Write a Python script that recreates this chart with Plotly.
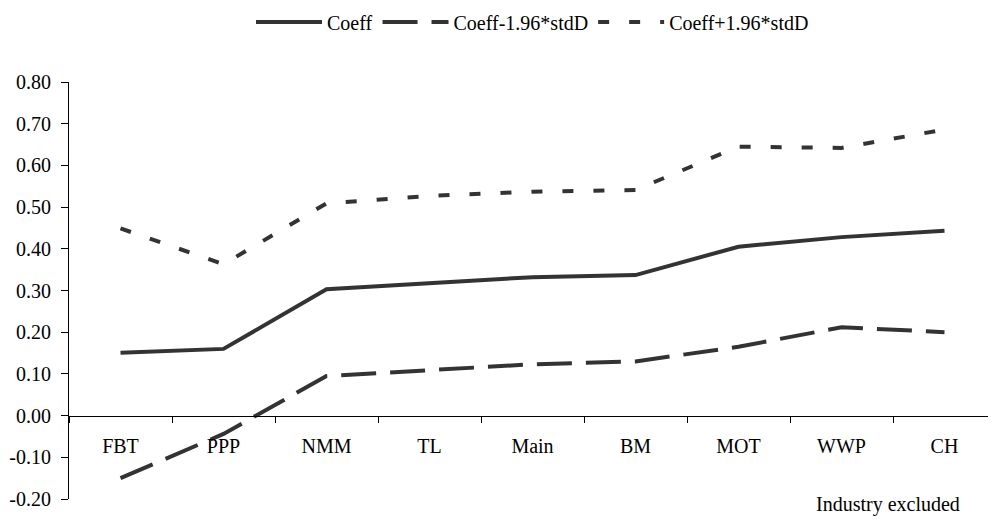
import plotly.graph_objects as go

categories = ["FBT", "PPP", "NMM", "TL", "Main", "BM", "MOT", "WWP", "CH"]
coeff = [0.151, 0.160, 0.303, 0.318, 0.332, 0.337, 0.405, 0.428, 0.443]
lower = [-0.150, -0.044, 0.095, 0.108, 0.123, 0.130, 0.165, 0.212, 0.200]
upper = [0.449, 0.363, 0.509, 0.527, 0.537, 0.541, 0.645, 0.642, 0.686]
y_tick_vals = [-0.2, -0.1, 0.0, 0.1, 0.2, 0.3, 0.4, 0.5, 0.6, 0.7, 0.8]
y_tick_text = ["-0.20", "-0.10", "0.00", "0.10", "0.20", "0.30", "0.40", "0.50", "0.60", "0.70", "0.80"]

FONT = "Liberation Serif"
COL = "#333333"

fig = go.Figure()
fig.add_trace(go.Scatter(x=categories, y=coeff, mode="lines", name="Coeff",
                         line=dict(color=COL, width=4)))
fig.add_trace(go.Scatter(x=categories, y=lower, mode="lines", name="Coeff-1.96*stdD",
                         line=dict(color=COL, width=4, dash="35px,14px")))
fig.add_trace(go.Scatter(x=categories, y=upper, mode="lines", name="Coeff+1.96*stdD",
                         line=dict(color=COL, width=4, dash="11px,20px")))

# page body has an 8px margin; figure is sized/margined to compensate
fig.update_layout(
    width=988, height=513,
    margin=dict(l=61, r=0, t=74, b=22, autoexpand=False),
    paper_bgcolor="white", plot_bgcolor="white",
    font=dict(family=FONT, size=20, color="black"),
    showlegend=True,
    legend=dict(orientation="h", x=0.5, xanchor="center", xref="paper",
                y=1.144, yref="paper", yanchor="middle",
                font=dict(family=FONT, size=20, color="black"),
                itemwidth=66, tracegroupgap=0),
    xaxis=dict(
        type="category", range=[-0.5, 8.5],
        anchor="free", position=0.2,
        showline=True, linecolor="black", linewidth=1,
        showgrid=False, zeroline=False,
        ticks="outside", tickson="boundaries", ticklen=6, tickcolor="black",
        ticklabelstandoff=12,
        tickfont=dict(family=FONT, size=20, color="black"),
        automargin=False,
    ),
    yaxis=dict(
        range=[-0.2, 0.8], tickmode="array", tickvals=y_tick_vals, ticktext=y_tick_text,
        showline=True, linecolor="black", linewidth=1,
        showgrid=False, zeroline=False,
        ticks="outside", ticklen=7, tickcolor="black",
        ticklabelstandoff=6,
        tickfont=dict(family=FONT, size=20, color="black"),
        automargin=False,
    ),
    annotations=[dict(text="Industry excluded", xref="paper", yref="paper",
                      x=0.963, y=-0.014, xanchor="right", yanchor="middle",
                      showarrow=False, font=dict(family=FONT, size=20, color="black"))],
)

fig.write_html("out.html")
